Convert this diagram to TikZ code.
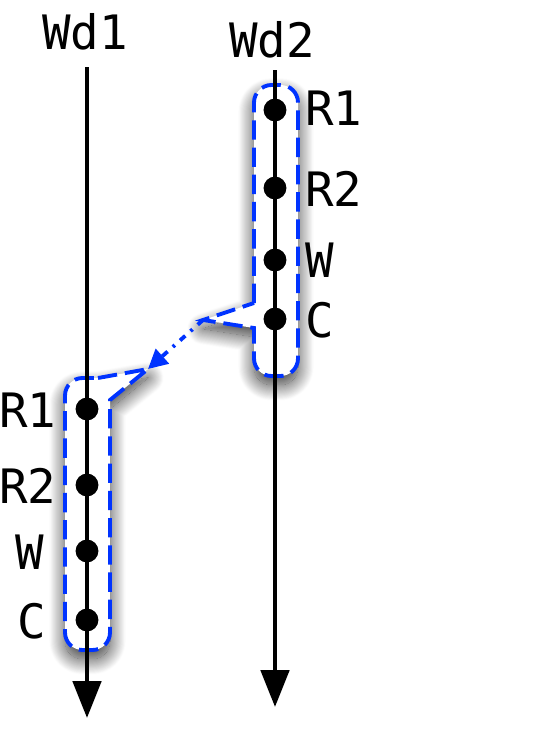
\documentclass[tikz,border=0pt]{standalone}
\usepackage{fontspec}
\setmonofont{DejaVu Sans Mono}
\usetikzlibrary{arrows.meta,shadows.blur}

\definecolor{regionblue}{RGB}{0,51,255}

\tikzset{
  lbl/.style={font=\ttfamily\fontsize{27}{31}\selectfont, inner sep=0pt},
  dot/.style={circle, fill=black, minimum size=13pt, inner sep=0pt},
  axis/.style={line width=2.6pt, -{Triangle[length=21pt,width=16pt,fill=black]}},
  region/.style={draw=regionblue, fill=white, line width=2.2pt,
    dash pattern=on 11pt off 4.5pt,
    blur shadow={shadow xshift=0pt, shadow yshift=-5pt, shadow blur radius=9pt,
      shadow blur steps=30, shadow opacity=80}},
  msg/.style={draw=regionblue, line width=2.2pt,
    dash pattern=on 4pt off 4pt on 1.5pt off 4pt,
    -{Triangle[length=11pt,width=11pt,fill=regionblue]}}
}

\begin{document}
\begin{tikzpicture}[x=0.02cm, y=-0.02cm]
\useasboundingbox (0,0) rectangle (541,730);

% the two timelines
\node[lbl] (wd1) at (85,32) {Wd1};
\node[lbl] (wd2) at (272,40) {Wd2};
\coordinate (top1) at (87,67);
\coordinate (end1) at (87,718);
\coordinate (top2) at (275,70);
\coordinate (end2) at (275,707);

% tail tips of the two regions
\coordinate (tailA) at (203,320);
\coordinate (tailB) at (148,369);

% regions with shadow
\draw[region] (254,303) [rounded corners=10pt] -- (254,85) -- (298,85) -- (298,376) -- (254,376) [sharp corners] -- (254,328) -- (tailA) -- cycle;
\draw[region] (98,378) -- (tailB) -- (110,400) [rounded corners=10pt] -- (110,650) -- (65,650) -- (65,378) [sharp corners] -- cycle;

\draw[axis] (top1) -- (end1);
\draw[axis] (top2) -- (end2);

% operations on Wd2
\node[dot] (b1) at (275,110) {};
\node[dot] (b2) at (275,188) {};
\node[dot] (b3) at (275,260) {};
\node[dot] (b4) at (275,319) {};
\node[lbl, anchor=west] (b1l) at (305,108) {R1};
\node[lbl, anchor=west] (b2l) at (305,189) {R2};
\node[lbl, anchor=west] (b3l) at (305,260) {W};
\node[lbl, anchor=west] (b4l) at (305,320) {C};

% operations on Wd1
\node[dot] (a1) at (87,409) {};
\node[dot] (a2) at (87,485) {};
\node[dot] (a3) at (87,551) {};
\node[dot] (a4) at (87,620) {};
\node[lbl] (a1l) at (28,410) {R1};
\node[lbl] (a2l) at (28,486) {R2};
\node[lbl] (a3l) at (30,552) {W};
\node[lbl] (a4l) at (32,621) {C};

\draw[msg] (tailA) -- (tailB);
\end{tikzpicture}
\end{document}
